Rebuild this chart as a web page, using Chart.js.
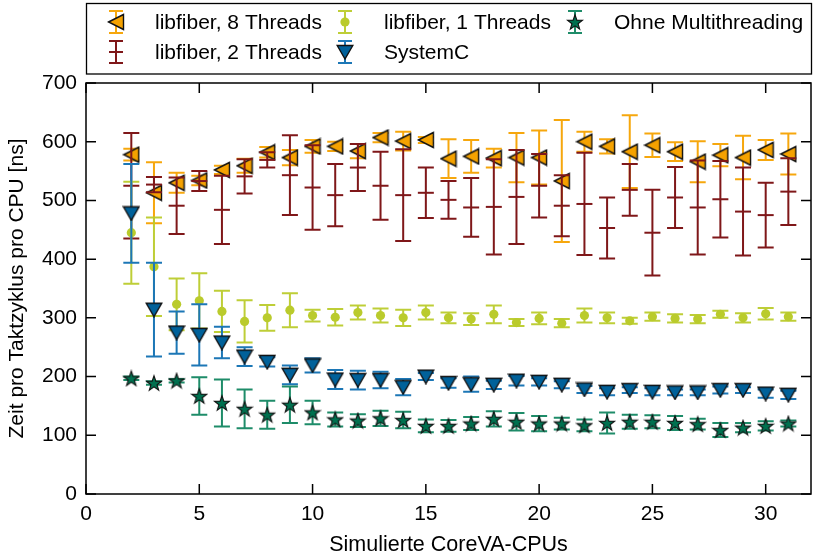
<!DOCTYPE html>
<html>
<head>
<meta charset="utf-8">
<script src="https://cdn.jsdelivr.net/npm/chart.js@4"></script>
<style>
  html, body { margin: 0; padding: 0; background: #fff; }
  #wrap { width: 814px; height: 558px; }
</style>
</head>
<body>
<div id="wrap"><canvas id="c" width="814" height="558"></canvas></div>
<script>
// Simulated CPU counts (x axis)
const cpus = [2,3,4,5,6,7,8,9,10,11,12,13,14,15,16,17,18,19,20,21,22,23,24,25,26,27,28,29,30,31];

// libfiber, 8 threads: mean and +/- error [ns]
const fiber8Mean = [578,513,530,534,552,559,582,573,592,592,584,607,601,603,571,575,572,573,573,533,600,592,583,594,583,566,577,573,586,579];
const fiber8Err  = [10,52,17,8,7,12,9,13,11,8,12,8,16,5,33,28,16,42,46,104,17,12,62,20,16,35,19,37,17,35];

// libfiber, 2 threads
const fiber2Mean = [525,527,491,533,484,541,569,543,522,509,556,525,509,513,501,488,489,506,525,491,494,453,518,445,505,488,502,481,475,515];
const fiber2Err  = [90,13,48,17,58,29,13,68,72,53,40,58,78,43,32,50,81,80,54,52,87,52,44,73,52,80,65,75,55,57];

// libfiber, 1 thread
const fiber1Mean = [445,387,323,329,311,294,300,313,304,301,309,304,300,309,300,298,306,292,299,291,304,300,295,302,299,298,306,300,307,302];
const fiber1Err  = [87,84,44,47,35,36,22,29,10,14,12,12,14,12,9,10,15,6,10,7,12,9,5,7,7,7,6,8,10,7];

// SystemC
const systemcMean = [478,314,275,271,258,234,225,203,219,195,194,194,182,200,189,187,186,193,191,186,178,174,177,174,173,173,177,177,171,169];
const systemcErr  = [84,80,36,52,27,16,8,16,12,16,16,14,14,6,8,13,7,8,6,6,6,6,5,6,5,5,6,5,7,7];

// Without multithreading
const singleMean = [197,189,193,167,155,145,135,152,139,127,125,129,126,116,116,120,128,123,120,120,117,121,123,123,121,119,109,113,116,120];
const singleErr  = [3,3,3,32,40,33,24,31,20,12,11,13,14,11,10,11,13,15,13,10,10,18,12,11,12,9,12,8,8,5];

// Axis ticks
const xTicks = [0,5,10,15,20,25,30];
const yTicks = [0,100,200,300,400,500,600,700];

const FONT = '"Liberation Sans", Arial, Helvetica, sans-serif';
const COL = {
  orange: '#F5A200',
  darkred: '#7F1719',
  lime: '#BACB2C',
  blue: '#00619A',
  blueBar: '#1C77B6',
  green: '#00704F',
  greenBar: '#1E8C69'
};

// ---- marker images ----
function makeCanvas(w, h) {
  const c = document.createElement('canvas');
  c.width = w; c.height = h;
  return c;
}
function triLeft(fill) {
  const c = makeCanvas(18, 18), g = c.getContext('2d');
  g.beginPath(); g.moveTo(1.5, 9); g.lineTo(16.5, 1.5); g.lineTo(16.5, 16.5); g.closePath();
  g.fillStyle = fill; g.fill();
  g.lineJoin = 'miter'; g.lineWidth = 1.4; g.strokeStyle = '#111'; g.stroke();
  return c;
}
function triDown(fill) {
  const c = makeCanvas(18, 16), g = c.getContext('2d');
  g.beginPath(); g.moveTo(1.2, 1.5); g.lineTo(16.8, 1.5); g.lineTo(9, 15); g.closePath();
  g.fillStyle = fill; g.fill();
  g.lineWidth = 1.4; g.strokeStyle = '#111'; g.stroke();
  return c;
}
function star(fill) {
  const c = makeCanvas(18, 18), g = c.getContext('2d');
  const cx = 9, cy = 9.7, R = 8.0, r = 3.2;
  g.beginPath();
  for (let i = 0; i < 10; i++) {
    const a = -Math.PI / 2 + i * Math.PI / 5;
    const rr = i % 2 === 0 ? R : r;
    const px = cx + rr * Math.cos(a), py = cy + rr * Math.sin(a);
    if (i === 0) g.moveTo(px, py); else g.lineTo(px, py);
  }
  g.closePath();
  g.fillStyle = fill; g.fill();
  g.lineWidth = 1.1; g.strokeStyle = '#111'; g.stroke();
  return c;
}
const imgTri8 = triLeft(COL.orange);
const imgTriSC = triDown(COL.blue);
const imgStar = star(COL.green);

function pts(means) { return cpus.map((x, i) => ({ x: x, y: means[i] })); }

const datasets = [
  { label: 'libfiber, 8 Threads', data: pts(fiber8Mean), errors: fiber8Err, barColor: 'rgba(245,162,0,0.95)',
    pointStyle: imgTri8, pointRadius: 9, order: 5 },
  { label: 'libfiber, 2 Threads', data: pts(fiber2Mean), errors: fiber2Err, barColor: COL.darkred,
    pointStyle: 'line', pointRadius: 8, borderColor: COL.darkred, pointBorderWidth: 2, order: 4 },
  { label: 'libfiber, 1 Threads', data: pts(fiber1Mean), errors: fiber1Err, barColor: 'rgba(186,203,44,0.95)',
    pointStyle: 'circle', pointRadius: 4.6, backgroundColor: COL.lime, borderColor: COL.lime, pointBorderWidth: 0, order: 3 },
  { label: 'SystemC', data: pts(systemcMean), errors: systemcErr, barColor: COL.blueBar,
    pointStyle: imgTriSC, pointRadius: 9, order: 2 },
  { label: 'Ohne Multithreading', data: pts(singleMean), errors: singleErr, barColor: COL.greenBar,
    pointStyle: imgStar, pointRadius: 9, order: 1 }
];
datasets.forEach(d => { d.showLine = false; d.pointHoverRadius = d.pointRadius; });

// Error bars are drawn right before each dataset's markers
const errorBars = {
  id: 'errorBars',
  beforeDatasetDraw(chart, args) {
    const ds = chart.data.datasets[args.index];
    if (!ds.errors) return;
    const xs = chart.scales.x, ys = chart.scales.y, ctx = chart.ctx;
    ctx.save();
    ctx.strokeStyle = ds.barColor;
    ctx.lineWidth = 2;
    ds.data.forEach((p, i) => {
      const e = ds.errors[i];
      const px = xs.getPixelForValue(p.x);
      const yt = ys.getPixelForValue(p.y + e);
      const yb = ys.getPixelForValue(p.y - e);
      ctx.beginPath();
      ctx.moveTo(px, yt); ctx.lineTo(px, yb);
      ctx.moveTo(px - 8, yt); ctx.lineTo(px + 8, yt);
      ctx.moveTo(px - 8, yb); ctx.lineTo(px + 8, yb);
      ctx.stroke();
    });
    ctx.restore();
  }
};

// Box frame with inward tick marks on all four sides
const frame = {
  id: 'frame',
  afterDraw(chart) {
    const { ctx, chartArea: a, scales: { x, y } } = chart;
    ctx.save();
    ctx.strokeStyle = '#000';
    ctx.lineWidth = 1.5;
    ctx.strokeRect(a.left, a.top, a.right - a.left, a.bottom - a.top);
    ctx.beginPath();
    xTicks.forEach(v => {
      const px = x.getPixelForValue(v);
      ctx.moveTo(px, a.bottom); ctx.lineTo(px, a.bottom - 10);
      ctx.moveTo(px, a.top); ctx.lineTo(px, a.top + 10);
    });
    yTicks.forEach(v => {
      const py = y.getPixelForValue(v);
      ctx.moveTo(a.left, py); ctx.lineTo(a.left + 10, py);
      ctx.moveTo(a.right, py); ctx.lineTo(a.right - 10, py);
    });
    ctx.stroke();
    ctx.restore();
  }
};

// Three-column boxed legend above the plot
const boxLegend = {
  id: 'boxLegend',
  afterDraw(chart) {
    const ctx = chart.ctx;
    const ds = chart.data.datasets;
    const slots = [
      { i: 0, ix: 116, iy: 22, tx: 155 },
      { i: 1, ix: 116, iy: 52, tx: 155 },
      { i: 2, ix: 345, iy: 22, tx: 384 },
      { i: 3, ix: 345, iy: 52, tx: 384 },
      { i: 4, ix: 575, iy: 22, tx: 614 }
    ];
    ctx.save();
    ctx.fillStyle = '#fff';
    ctx.fillRect(86, 3, 726, 71);
    ctx.strokeStyle = '#000';
    ctx.lineWidth = 1.3;
    ctx.strokeRect(86.5, 3.5, 725, 70.5);
    slots.forEach(s => {
      const d = ds[s.i];
      ctx.strokeStyle = d.barColor;
      ctx.lineWidth = 2;
      ctx.beginPath();
      ctx.moveTo(s.ix, s.iy - 11); ctx.lineTo(s.ix, s.iy + 11);
      ctx.moveTo(s.ix - 7, s.iy - 11); ctx.lineTo(s.ix + 7, s.iy - 11);
      ctx.moveTo(s.ix - 7, s.iy + 11); ctx.lineTo(s.ix + 7, s.iy + 11);
      ctx.stroke();
      const st = d.pointStyle;
      if (st instanceof HTMLCanvasElement) {
        ctx.drawImage(st, s.ix - st.width / 2, s.iy - st.height / 2);
      } else if (st === 'circle') {
        ctx.fillStyle = COL.lime;
        ctx.beginPath(); ctx.arc(s.ix, s.iy, 4.6, 0, Math.PI * 2); ctx.fill();
      } else if (st === 'line') {
        ctx.strokeStyle = d.barColor;
        ctx.beginPath(); ctx.moveTo(s.ix - 7, s.iy); ctx.lineTo(s.ix + 7, s.iy); ctx.stroke();
      }
      ctx.fillStyle = '#000';
      ctx.font = '21px ' + FONT;
      ctx.textBaseline = 'middle';
      ctx.textAlign = 'left';
      ctx.fillText(d.label, s.tx, s.iy + 1);
    });
    ctx.restore();
  }
};

const tickFont = { family: FONT, size: 21 };

new Chart(document.getElementById('c'), {
  type: 'scatter',
  data: { datasets },
  plugins: [errorBars, frame, boxLegend],
  options: {
    responsive: false,
    animation: false,
    devicePixelRatio: 1,
    layout: { autoPadding: false, padding: { top: 83, right: 3, left: 0, bottom: 0 } },
    plugins: { legend: { display: false }, tooltip: { enabled: false } },
    scales: {
      x: {
        type: 'linear', min: 0, max: 32,
        afterBuildTicks: s => { s.ticks = xTicks.map(v => ({ value: v })); },
        afterFit: s => { s.height = 64; s.paddingLeft = 0; s.paddingRight = 0; },
        grid: { display: false, drawTicks: false },
        border: { display: false },
        ticks: { font: tickFont, color: '#000', padding: 8, maxRotation: 0, autoSkip: false },
        title: { display: true, text: 'Simulierte CoreVA-CPUs', font: { family: FONT, size: 21.5 }, color: '#000', padding: { top: 0, bottom: 0 } }
      },
      y: {
        type: 'linear', min: 0, max: 700,
        afterBuildTicks: s => { s.ticks = yTicks.map(v => ({ value: v })); },
        afterFit: s => { s.width = 86; s.paddingTop = 0; s.paddingBottom = 0; },
        grid: { display: false, drawTicks: false },
        border: { display: false },
        ticks: { font: tickFont, color: '#000', padding: 9, autoSkip: false },
        title: { display: true, text: 'Zeit pro Taktzyklus pro CPU [ns]', font: { family: FONT, size: 21 }, color: '#000', padding: { top: 5, bottom: 0 } }
      }
    }
  }
});
</script>
</body>
</html>
